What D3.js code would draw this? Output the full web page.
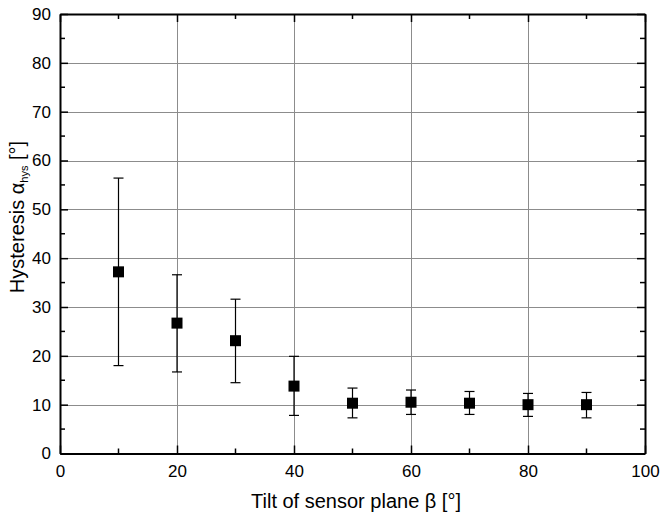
<!DOCTYPE html>
<html>
<head>
<meta charset="utf-8">
<script src="https://cdn.jsdelivr.net/npm/d3@7"></script>
<style>
  html, body { margin: 0; padding: 0; background: #fff; }
  svg { display: block; font-family: "Liberation Sans", Arial, sans-serif; }
</style>
</head>
<body>
<svg id="chart" width="660" height="516"></svg>
<script>
// Tilt angle of the sensor plane (deg) and measured hysteresis (deg)
const tilt = [10, 20, 30, 40, 50, 60, 70, 80, 90];
const hysteresis = [37.2, 26.7, 23.1, 13.8, 10.3, 10.5, 10.3, 10.0, 10.0];
const errUpper = [56.4, 36.6, 31.6, 19.9, 13.4, 13.0, 12.7, 12.3, 12.5];
const errLower = [18.0, 16.7, 14.5, 7.8, 7.3, 8.0, 8.0, 7.6, 7.3];
const xTicks = [0, 20, 40, 60, 80, 100];
const yTicks = [0, 10, 20, 30, 40, 50, 60, 70, 80, 90];
const xMinor = [10, 30, 50, 70, 90];
const yMinor = [5, 15, 25, 35, 45, 55, 65, 75, 85];

const svg = d3.select("#chart");
const plotL = 60, plotR = 645, plotT = 14, plotB = 453.5;

const x = d3.scaleLinear().domain([0, 100]).range([plotL, plotR]);
const y = d3.scaleLinear().domain([0, 90]).range([plotB, plotT]);

// Grid lines at interior major ticks
const grid = svg.append("g").attr("stroke", "#8c8c8c").attr("stroke-width", 1);
grid.selectAll("line.gx").data(xTicks.filter(d => d > 0 && d < 100)).join("line")
  .attr("x1", d => Math.round(x(d)) + 0.5).attr("x2", d => Math.round(x(d)) + 0.5)
  .attr("y1", plotT).attr("y2", plotB);
grid.selectAll("line.gy").data(yTicks.filter(d => d > 0 && d < 90)).join("line")
  .attr("y1", d => Math.round(y(d)) + 0.5).attr("y2", d => Math.round(y(d)) + 0.5)
  .attr("x1", plotL).attr("x2", plotR);

// Axes with inward ticks on all four sides
const major = 8, minor = 5;
const axB = d3.axisBottom(x).tickValues(xTicks).tickSizeInner(-major).tickSizeOuter(0).tickPadding(11);
const axT = d3.axisTop(x).tickValues(xTicks).tickSizeInner(-major).tickSizeOuter(0).tickFormat("");
const axL = d3.axisLeft(y).tickValues(yTicks).tickSizeInner(-major).tickSizeOuter(0).tickPadding(9);
const axR = d3.axisRight(y).tickValues(yTicks).tickSizeInner(-major).tickSizeOuter(0).tickFormat("");

function styleAxis(g) {
  g.select(".domain").attr("stroke", "#000").attr("stroke-width", 2);
  g.selectAll(".tick line").attr("stroke", "#000").attr("stroke-width", 1.5);
  g.selectAll(".tick text").attr("fill", "#000").attr("font-size", 17)
    .attr("font-family", "Liberation Sans, Arial, sans-serif");
}

svg.append("g").attr("transform", `translate(0,${plotB})`).call(axB).call(styleAxis);
svg.append("g").attr("transform", `translate(0,${plotT})`).call(axT).call(styleAxis);
svg.append("g").attr("transform", `translate(${plotL},0)`).call(axL).call(styleAxis);
svg.append("g").attr("transform", `translate(${plotR},0)`).call(axR).call(styleAxis);

// Minor ticks
const mt = svg.append("g").attr("stroke", "#000").attr("stroke-width", 1.5);
mt.selectAll("line.mb").data(xMinor).join("line")
  .attr("x1", d => x(d)).attr("x2", d => x(d)).attr("y1", plotB).attr("y2", plotB - minor);
mt.selectAll("line.mt").data(xMinor).join("line")
  .attr("x1", d => x(d)).attr("x2", d => x(d)).attr("y1", plotT).attr("y2", plotT + minor);
mt.selectAll("line.ml").data(yMinor).join("line")
  .attr("y1", d => y(d)).attr("y2", d => y(d)).attr("x1", plotL).attr("x2", plotL + minor);
mt.selectAll("line.mr").data(yMinor).join("line")
  .attr("y1", d => y(d)).attr("y2", d => y(d)).attr("x1", plotR).attr("x2", plotR - minor);

// Error bars
const pts = tilt.map((t, i) => ({ t, v: hysteresis[i], hi: errUpper[i], lo: errLower[i] }));
const eb = svg.append("g").attr("stroke", "#000").attr("stroke-width", 1.2);
const cap = 5;
eb.selectAll("line.v").data(pts).join("line")
  .attr("x1", d => x(d.t)).attr("x2", d => x(d.t)).attr("y1", d => y(d.hi)).attr("y2", d => y(d.lo));
eb.selectAll("line.hi").data(pts).join("line")
  .attr("x1", d => x(d.t) - cap).attr("x2", d => x(d.t) + cap).attr("y1", d => y(d.hi)).attr("y2", d => y(d.hi));
eb.selectAll("line.lo").data(pts).join("line")
  .attr("x1", d => x(d.t) - cap).attr("x2", d => x(d.t) + cap).attr("y1", d => y(d.lo)).attr("y2", d => y(d.lo));

// Square markers
const s = 11;
svg.append("g").selectAll("rect").data(pts).join("rect")
  .attr("x", d => x(d.t) - s / 2).attr("y", d => y(d.v) - s / 2)
  .attr("width", s).attr("height", s).attr("fill", "#000");

// Axis titles
svg.append("text").attr("x", 356).attr("y", 508)
  .attr("text-anchor", "middle").attr("font-size", 20).attr("fill", "#000")
  .text("Tilt of sensor plane β [°]");

const yt = svg.append("text")
  .attr("transform", `translate(24,217) rotate(-90)`)
  .attr("text-anchor", "middle").attr("font-size", 20).attr("fill", "#000");
yt.append("tspan").text("Hysteresis α");
yt.append("tspan").attr("font-size", 11).attr("dy", 4).text("hys");
yt.append("tspan").attr("dy", -4).text(" [°]");
</script>
</body>
</html>
